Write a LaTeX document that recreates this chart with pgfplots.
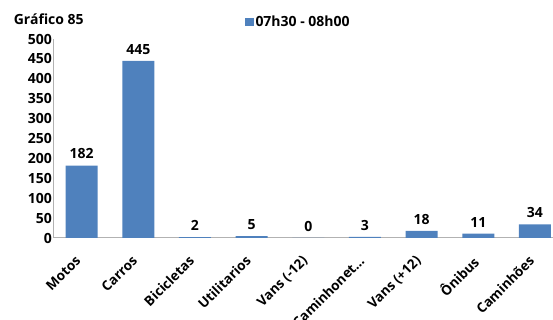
\documentclass[border=0pt]{standalone}
\usepackage{pgfplots}
\pgfplotsset{compat=1.18}
\usepackage{fontspec}
\setmainfont{Open Sans}
\definecolor{barblue}{HTML}{4F81BD}
\begin{document}
\begin{tikzpicture}
\useasboundingbox (-53.3pt,-82pt) rectangle (499.7pt,238pt);
\begin{axis}[
  at={(0,0)}, anchor=south west,
  scale only axis, width=510pt, height=199pt,
  ymin=0, ymax=500, ytick={0,50,100,150,200,250,300,350,400,450,500},
  xmin=-0.5, xmax=8.5,
  xtick={0,1,2,3,4,5,6,7,8},
  xticklabels={Motos,Carros,Bicicletas,Utilitarios,Vans (-12),Caminhonet\ldots,Vans (+12),Ônibus,Caminhões},
  x tick label style={xshift=-7pt, yshift=-15pt, rotate=45, anchor=north east, font=\bfseries\fontsize{13.5}{14}\selectfont, inner sep=1pt},
  y tick label style={xshift=2pt, font=\bfseries\fontsize{14}{15}\selectfont},
  /pgf/number format/assume math mode=true,
  axis x line*=bottom, axis y line*=left,
  axis line style={draw=gray!60, line width=1pt},
  major tick length=0pt,
  ybar, bar width=32pt,
  nodes near coords,
  every node near coord/.append style={font=\bfseries\fontsize{14}{15}\selectfont, yshift=3pt},
  clip=false,
  legend style={at={(191pt,216pt)}, anchor=west, draw=none, fill=none, font=\bfseries\fontsize{14}{15}\selectfont, legend cell align=left, inner sep=0pt},
  legend image code/.code={\fill[barblue] (0pt,-4pt) rectangle (9pt,4pt);},
]
\addplot[fill=barblue, draw=none] coordinates {(0,182) (1,445) (2,2) (3,5) (4,0) (5,3) (6,18) (7,11) (8,34)};
\addlegendentry{07h30 - 08h00}
\end{axis}
\node[anchor=west, font=\bfseries\fontsize{14}{15}\selectfont] at (-43pt,219pt) {Gráfico 85};
\end{tikzpicture}
\end{document}
